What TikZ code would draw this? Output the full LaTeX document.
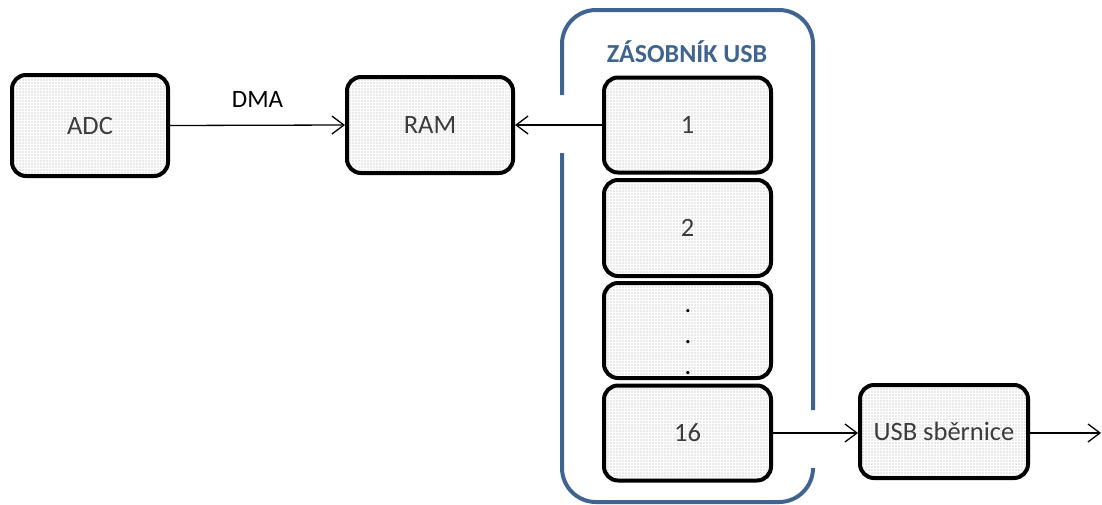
\documentclass[tikz,border=0pt]{standalone}
\usepackage{fontspec}
\setmainfont{Carlito}
\usetikzlibrary{arrows.meta,patterns}
\definecolor{frameblue}{RGB}{64,100,145}
\definecolor{boxtext}{RGB}{60,60,60}
\tikzset{
  block/.style={draw=black, line width=4pt, rounded corners=14pt,
    preaction={fill=gray!17}, pattern=grid, pattern color=white,
    inner sep=0pt, text=boxtext, font=\fontsize{26.5}{31}\selectfont},
  link/.style={line width=1.3pt, -{Straight Barb[length=12pt,width=18pt,line width=1.3pt]}},
  stackframe/.style={draw=frameblue, line width=4pt, rounded corners=34pt},
}
\begin{document}
\begin{tikzpicture}[x=1pt,y=-1pt]
  \useasboundingbox (0,0) rectangle (1102,504);

  % stack outline with openings for the two connectors
  \draw[stackframe] (562,95) -- (562,10) -- (813,10) -- (813,410);
  \draw[stackframe] (562,153) -- (562,502) -- (813,502) -- (813,470);
  \node[text=frameblue, font=\bfseries\fontsize{26}{30}\selectfont] (title) at (687,52) {ZÁSOBNÍK USB};

  % blocks
  \node[block, minimum width=156pt, minimum height=101pt] (adc) at (90,125.5) {ADC};
  \node[block, minimum width=166pt, minimum height=96pt] (ram) at (430,125) {RAM};
  \node[block, minimum width=167pt, minimum height=95pt] (s1) at (687.5,125) {1};
  \node[block, minimum width=167pt, minimum height=96pt] (s2) at (687.5,228) {2};
  \node[block, minimum width=167pt, minimum height=95pt] (s3) at (687.5,330.5) {};
  \node[text=black, align=center, inner sep=0pt, font=\fontsize{26.5}{31}\selectfont]
        (dots) at (688,342) {.\\.\\.};
  \node[block, minimum width=167pt, minimum height=95pt] (s16) at (687.5,433) {16};
  \node[block, minimum width=168pt, minimum height=93pt] (usb) at (944,431.5) {USB sběrnice};
  \coordinate (out) at (1101,433);

  % connectors
  \draw[link] (adc.east) -- node[above=14pt, text=black, font=\fontsize{25}{28}\selectfont] (dma) {DMA} (ram.west);
  \draw[link] (s1.west) -- (ram.east);
  \draw[link] (s16.east |- 0,433) -- (usb.west |- 0,433);
  \draw[link] (usb.east |- 0,433) -- (out);
\end{tikzpicture}
\end{document}
